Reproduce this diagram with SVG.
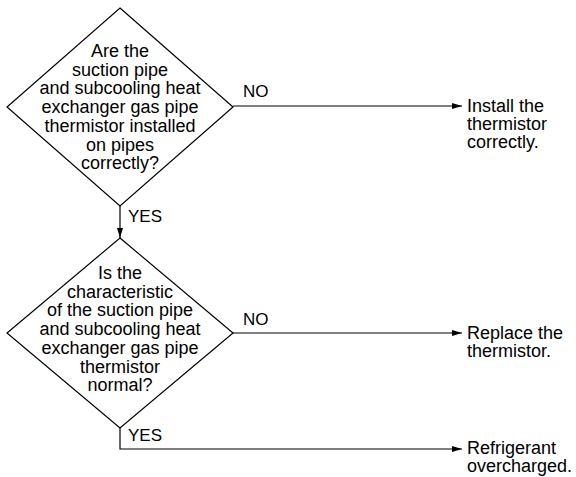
<svg xmlns="http://www.w3.org/2000/svg" width="576" height="477" viewBox="0 0 576 477">
  <defs>
    <marker id="arrow" viewBox="0 0 10 6" refX="10" refY="3" markerWidth="10" markerHeight="6" markerUnits="userSpaceOnUse" orient="auto">
      <path d="M0,0 L10,3 L0,6 z" fill="#000"/>
    </marker>
    <style>
      .shape { fill: #fff; stroke: #000; stroke-width: 1.2; }
      .line { fill: none; stroke: #000; stroke-width: 1.2; }
      text { font-family: "Liberation Sans", Arial, Helvetica, sans-serif; font-size: 18px; fill: #000; }
      .c { text-anchor: middle; }
      .lbl { font-size: 17px; }
    </style>
  </defs>
  <rect width="576" height="477" fill="#fff"/>

  <g id="connectors">
    <path class="line" d="M233,106 H462" marker-end="url(#arrow)"/>
    <path class="line" d="M120,206 V238" marker-end="url(#arrow)"/>
    <path class="line" d="M233,333 H462" marker-end="url(#arrow)"/>
    <path class="line" d="M120,428 V449 H462" marker-end="url(#arrow)"/>
    <text class="lbl" x="243" y="97">NO</text>
    <text class="lbl" x="128" y="222">YES</text>
    <text class="lbl" x="243" y="325">NO</text>
    <text class="lbl" x="128" y="441">YES</text>
  </g>

  <g id="q1">
    <polygon class="shape" points="120,8 233,107 120,206 7,107"/>
    <text class="c" x="120" y="57">Are the</text>
    <text class="c" x="120" y="75.7">suction pipe</text>
    <text class="c" x="120" y="94.4">and subcooling heat</text>
    <text class="c" x="120" y="113.1">exchanger gas pipe</text>
    <text class="c" x="120" y="131.8">thermistor installed</text>
    <text class="c" x="120" y="150.5">on pipes</text>
    <text class="c" x="120" y="169.2">correctly?</text>
  </g>

  <g id="q2">
    <polygon class="shape" points="120,238 233,333 120,428 7,333"/>
    <text class="c" x="120" y="279">Is the</text>
    <text class="c" x="120" y="297.7">characteristic</text>
    <text class="c" x="120" y="316.4">of the suction pipe</text>
    <text class="c" x="120" y="335.1">and subcooling heat</text>
    <text class="c" x="120" y="353.8">exchanger gas pipe</text>
    <text class="c" x="120" y="372.5">thermistor</text>
    <text class="c" x="120" y="391.2">normal?</text>
  </g>

  <g id="install">
    <text x="467" y="112">Install the</text>
    <text x="467" y="130">thermistor</text>
    <text x="467" y="148">correctly.</text>
  </g>

  <g id="replace">
    <text x="467" y="339">Replace the</text>
    <text x="467" y="357">thermistor.</text>
  </g>

  <g id="overcharged">
    <text x="467" y="454">Refrigerant</text>
    <text x="467" y="472">overcharged.</text>
  </g>
</svg>
